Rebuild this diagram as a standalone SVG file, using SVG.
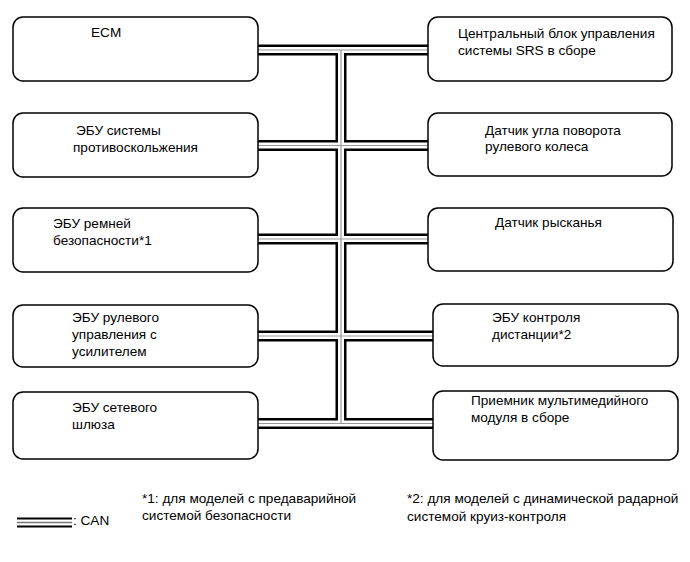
<svg xmlns="http://www.w3.org/2000/svg" width="690" height="562" viewBox="0 0 690 562">
<style>
.box{fill:#fff;stroke:#000;stroke-width:1.5}
.t{font-family:"Liberation Sans",Arial,sans-serif;font-size:13.6px;fill:#000}
.b1{fill:none;stroke:#000;stroke-width:11}
.b2{fill:none;stroke:#fff;stroke-width:6}
.b3{fill:none;stroke:#999;stroke-width:1.2}
</style>
<defs>
<path id="bus" d="M258,50 H428 M258,145.5 H428 M258,239 H428 M258,336 H433 M258,423.5 H433 M341,50 V423.5"/>
</defs>
<rect width="690" height="562" fill="#fff"/>
<g id="connectors">
<use href="#bus" class="b1"/>
<use href="#bus" class="b2"/>
<use href="#bus" class="b3"/>
</g>
<g id="ecm">
<rect class="box" x="13" y="17" width="245" height="64" rx="10"/>
<text class="t" x="91" y="37">ECM</text>
</g>
<g id="srs">
<rect class="box" x="428" y="17" width="244" height="64" rx="10"/>
<text class="t" x="458" y="38">Центральный блок управления</text>
<text class="t" x="458" y="55">системы SRS в сборе</text>
</g>
<g id="skid">
<rect class="box" x="13" y="113" width="245" height="64" rx="10"/>
<text class="t" x="76" y="135">ЭБУ системы</text>
<text class="t" x="73" y="152">противоскольжения</text>
</g>
<g id="steer-angle">
<rect class="box" x="428" y="113" width="244" height="63" rx="10"/>
<text class="t" x="485" y="135">Датчик угла поворота</text>
<text class="t" x="485" y="151">рулевого колеса</text>
</g>
<g id="seatbelt">
<rect class="box" x="13" y="208" width="245" height="64" rx="10"/>
<text class="t" x="53" y="228">ЭБУ ремней</text>
<text class="t" x="53" y="245">безопасности*1</text>
</g>
<g id="yaw">
<rect class="box" x="428" y="208" width="245" height="63" rx="10"/>
<text class="t" x="495" y="227">Датчик рысканья</text>
</g>
<g id="eps">
<rect class="box" x="13" y="305" width="245" height="62" rx="10"/>
<text class="t" x="72" y="322">ЭБУ рулевого</text>
<text class="t" x="72" y="339">управления с</text>
<text class="t" x="72" y="356">усилителем</text>
</g>
<g id="distance">
<rect class="box" x="433" y="304" width="245" height="62" rx="10"/>
<text class="t" x="492" y="322">ЭБУ контроля</text>
<text class="t" x="492" y="339">дистанции*2</text>
</g>
<g id="gateway">
<rect class="box" x="13" y="392" width="245" height="67" rx="10"/>
<text class="t" x="72" y="412">ЭБУ сетевого</text>
<text class="t" x="72" y="429">шлюза</text>
</g>
<g id="multimedia">
<rect class="box" x="433" y="391" width="245" height="69" rx="10"/>
<text class="t" x="471" y="405">Приемник мультимедийного</text>
<text class="t" x="471" y="422">модуля в сборе</text>
</g>
<g id="legend">
<line x1="17" y1="518.5" x2="72" y2="518.5" stroke="#000" stroke-width="2"/>
<line x1="17" y1="522.5" x2="72" y2="522.5" stroke="#777" stroke-width="1.5"/>
<line x1="17" y1="526.5" x2="72" y2="526.5" stroke="#000" stroke-width="2"/>
<text class="t" x="73" y="525">: CAN</text>
<text class="t" x="142" y="503">*1: для моделей с предаварийной</text>
<text class="t" x="142" y="520">системой безопасности</text>
<text class="t" x="407" y="503">*2: для моделей с динамической радарной</text>
<text class="t" x="407" y="521">системой круиз-контроля</text>
</g>
</svg>
